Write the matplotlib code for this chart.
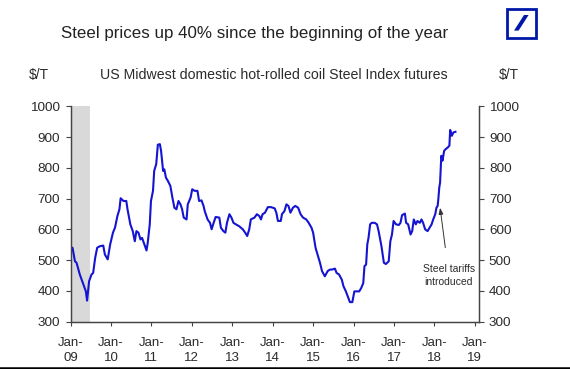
import matplotlib
matplotlib.use("Agg")
import matplotlib.pyplot as plt
import numpy as np
from matplotlib.patches import Rectangle, Polygon
from matplotlib.lines import Line2D

plt.rcParams["font.family"] = ["Liberation Sans", "DejaVu Sans"]

# ── Data: HRC Midwest steel futures, $/T (decimal year, value) ─────────
years = [
    2009.00, 2009.05, 2009.11, 2009.15, 2009.23, 2009.32, 2009.38, 2009.41, 2009.46, 2009.52,
    2009.56, 2009.61, 2009.66, 2009.73, 2009.81, 2009.85, 2009.92, 2009.98, 2010.05, 2010.10,
    2010.16, 2010.21, 2010.24, 2010.31, 2010.38, 2010.41, 2010.48, 2010.54, 2010.59, 2010.63,
    2010.68, 2010.73, 2010.77, 2010.83, 2010.88, 2010.91, 2010.96, 2010.99, 2011.04, 2011.07,
    2011.12, 2011.16, 2011.21, 2011.24, 2011.29, 2011.32, 2011.36, 2011.41, 2011.47, 2011.52,
    2011.57, 2011.62, 2011.67, 2011.72, 2011.76, 2011.80, 2011.87, 2011.90, 2011.97, 2012.01,
    2012.07, 2012.14, 2012.18, 2012.24, 2012.29, 2012.32, 2012.39, 2012.45, 2012.49, 2012.54,
    2012.59, 2012.68, 2012.72, 2012.78, 2012.83, 2012.87, 2012.93, 2012.98, 2013.03, 2013.09,
    2013.17, 2013.26, 2013.32, 2013.37, 2013.42, 2013.46, 2013.55, 2013.61, 2013.67, 2013.71,
    2013.75, 2013.81, 2013.88, 2013.96, 2014.05, 2014.09, 2014.13, 2014.20, 2014.23, 2014.29,
    2014.34, 2014.39, 2014.44, 2014.50, 2014.56, 2014.63, 2014.69, 2014.75, 2014.83, 2014.89,
    2014.96, 2015.00, 2015.06, 2015.11, 2015.17, 2015.22, 2015.29, 2015.36, 2015.42, 2015.47,
    2015.54, 2015.58, 2015.64, 2015.71, 2015.75, 2015.81, 2015.87, 2015.91, 2015.97, 2016.02,
    2016.08, 2016.14, 2016.19, 2016.24, 2016.27, 2016.31, 2016.34, 2016.37, 2016.41, 2016.45,
    2016.52, 2016.58, 2016.62, 2016.69, 2016.75, 2016.80, 2016.87, 2016.91, 2016.95, 2016.99,
    2017.05, 2017.12, 2017.16, 2017.20, 2017.27, 2017.30, 2017.35, 2017.41, 2017.45, 2017.49,
    2017.54, 2017.58, 2017.64, 2017.68, 2017.72, 2017.77, 2017.83, 2017.88, 2017.93, 2017.97,
    2018.02, 2018.05, 2018.08, 2018.10, 2018.12, 2018.14, 2018.17, 2018.20, 2018.24, 2018.28,
    2018.33, 2018.37, 2018.39, 2018.43, 2018.47, 2018.52,
]
prices = [
    530, 540, 496, 491, 453, 420, 398, 368, 431, 453,
    458, 507, 540, 545, 547, 518, 502, 550, 589, 605,
    643, 665, 701, 692, 692, 665, 616, 594, 561, 594,
    589, 567, 572, 550, 531, 556, 616, 692, 725, 790,
    812, 875, 877, 855, 790, 795, 768, 757, 741, 703,
    670, 665, 692, 681, 665, 638, 632, 681, 703, 730,
    725, 725, 692, 694, 676, 659, 632, 621, 600, 621,
    640, 638, 605, 594, 589, 621, 649, 638, 621, 616,
    610, 600, 589, 578, 600, 632, 638, 649, 643, 632,
    649, 654, 672, 672, 668, 654, 627, 627, 649, 659,
    681, 676, 654, 670, 676, 670, 649, 638, 632, 621,
    605, 589, 540, 518, 491, 464, 447, 464, 469, 469,
    472, 458, 453, 436, 415, 398, 377, 363, 363, 398,
    398, 398, 409, 425, 480, 485, 551, 572, 616, 621,
    621, 616, 594, 545, 491, 487, 496, 561, 583, 627,
    616, 614, 621, 646, 651, 621, 616, 583, 594, 632,
    616, 627, 621, 632, 621, 600, 594, 605, 616, 632,
    649, 670, 676, 703, 736, 752, 839, 823, 855, 861,
    866, 872, 923, 904, 915, 917,
]

recession = (2009.0, 2009.49)
tariff_date, tariff_price = 2018.14, 670
tick_years = list(range(2009, 2020))
tick_labels = [f"Jan-\n{y % 100:02d}" for y in tick_years]
y_ticks = [300, 400, 500, 600, 700, 800, 900, 1000]

W, H = 570, 369
fig = plt.figure(figsize=(W / 100, H / 100), dpi=100)
fig.patch.set_facecolor("white")

left, right, top, bottom = 70.5, 478.5, 106.3, 321.5
ax = fig.add_axes([left / W, 1 - bottom / H, (right - left) / W, (bottom - top) / H])

TXT = "#2b2b2b"
SP = "#444444"

ax.axvspan(*recession, color="#d9d9d9", lw=0, zorder=0)
ax.plot(years, prices, color="#1414d2", lw=1.5, zorder=3)

ax.set_xlim(2009, 2019.09)
ax.set_ylim(300, 1000)
ax.set_xticks(tick_years)
ax.set_xticklabels(tick_labels, fontsize=9.5, color=TXT, linespacing=1.35)
ax.set_yticks(y_ticks)
ax.tick_params(axis="y", labelsize=9.7, labelcolor=TXT, length=3.5, width=0.8, color=SP, pad=4)
ax.tick_params(axis="x", length=3, width=0.8, color=SP, pad=8)

ax2 = ax.twinx()
ax2.set_ylim(300, 1000)
ax2.set_yticks(y_ticks)
ax2.tick_params(axis="y", labelsize=9.7, labelcolor=TXT, length=3.5, width=0.8, color=SP, pad=4)

for a in (ax, ax2):
    a.spines["top"].set_visible(False)
    for s in ("left", "right", "bottom"):
        a.spines[s].set_color(SP)
        a.spines[s].set_linewidth(0.9)

# annotation
ax.annotate("Steel tariffs\nintroduced", xy=(tariff_date, tariff_price),
            xytext=(2018.36, 450), ha="center", va="center", fontsize=7.5, color=TXT,
            linespacing=1.3,
            arrowprops=dict(arrowstyle="-|>,head_length=0.5,head_width=0.18",
                            color="#333333", lw=0.7, shrinkA=10, shrinkB=0))

# titles
fig.text(254.5 / W, 1 - 33.5 / H, "Steel prices up 40% since the beginning of the year",
         ha="center", va="center", fontsize=12.2, color="#222222")
fig.text(274 / W, 1 - 75 / H, "US Midwest domestic hot-rolled coil Steel Index futures",
         ha="center", va="center", fontsize=10.2, color=TXT)
fig.text(38.5 / W, 1 - 75 / H, "$/T", ha="center", va="center", fontsize=10, color=TXT)
fig.text(509 / W, 1 - 75 / H, "$/T", ha="center", va="center", fontsize=10, color=TXT)

# logo
blue = "#0018a8"
fig.add_artist(Rectangle((507.4 / W, 1 - 37.8 / H), 28.4 / W, 28.4 / H,
                         transform=fig.transFigure, fill=False, edgecolor=blue, lw=2.0))
slash = [(514.0, 30.6), (518.6, 30.6), (528.6, 15.0), (524.0, 15.0)]
fig.add_artist(Polygon([(x / W, 1 - y / H) for x, y in slash], closed=True,
                       transform=fig.transFigure, facecolor=blue, edgecolor="none"))

# bottom border
fig.add_artist(Line2D([0, 1], [1 - 368 / H, 1 - 368 / H], transform=fig.transFigure,
                      color="black", lw=1.8))

fig.savefig("out.png", dpi=100)
